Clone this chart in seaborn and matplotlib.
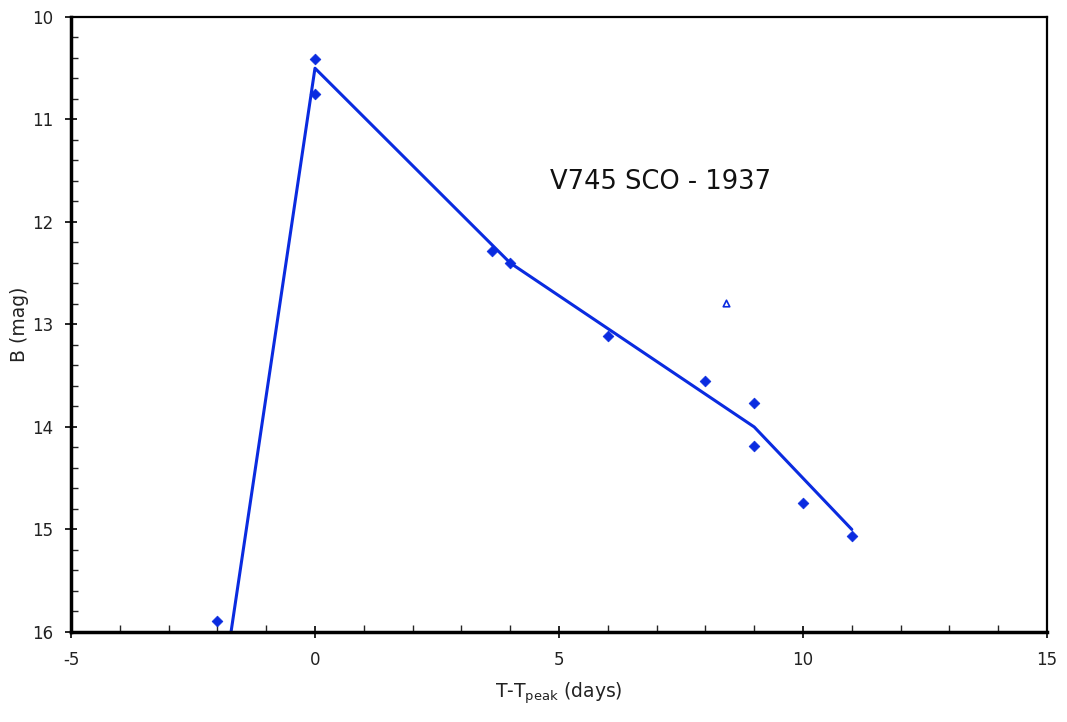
import numpy as np
import pandas as pd
import seaborn as sns
import matplotlib
matplotlib.use("Agg")
import matplotlib.pyplot as plt
from matplotlib.ticker import MultipleLocator

# Observations (diamonds)
obs_t = [-2.0, 0.0, 0.0, 3.63, 4.0, 6.0, 8.0, 9.0, 9.0, 10.0, 11.0]
obs_b = [15.89, 10.41, 10.75, 12.28, 12.40, 13.11, 13.55, 13.77, 14.19, 14.74, 15.06]
# Open-triangle observation
lim_t = [8.42]
lim_b = [12.79]
# Fitted piecewise template
fit_t = [-1.72, 0.0, 4.0, 9.0, 11.0]
fit_b = [16.0, 10.5, 12.4, 14.0, 15.0]

x_ticks = [-5, 0, 5, 10, 15]
y_ticks = [10, 11, 12, 13, 14, 15, 16]

blue = "#0a2be0"

sns.set_theme(style="white")
plt.rcParams['font.family'] = ['DejaVu Sans']
plt.rcParams['axes.unicode_minus'] = False

fig = plt.figure(figsize=(10.67, 7.22), dpi=100)
ax = fig.add_axes([0.0665, 0.1247, 0.9148, 0.8518])

obs = pd.DataFrame({"t": obs_t, "b": obs_b})
fit = pd.DataFrame({"t": fit_t, "b": fit_b})
lim = pd.DataFrame({"t": lim_t, "b": lim_b})

sns.lineplot(data=fit, x="t", y="b", ax=ax, color=blue, linewidth=2.2, sort=False,
             estimator=None, zorder=2)
sns.scatterplot(data=obs, x="t", y="b", ax=ax, marker="D", s=30, color=blue,
                edgecolor=blue, linewidth=0.5, zorder=3)
sns.scatterplot(data=lim, x="t", y="b", ax=ax, marker="^", s=22, facecolor="white",
                edgecolor=blue, linewidth=1.2, zorder=3)

ax.set_xlim(-5, 15)
ax.set_ylim(16, 10)
ax.set_xticks(x_ticks)
ax.set_yticks(y_ticks)
ax.xaxis.set_minor_locator(MultipleLocator(1))
ax.yaxis.set_minor_locator(MultipleLocator(0.2))
ax.tick_params(axis="both", which="major", direction="inout", length=8, width=1.2,
               labelsize=12, colors="black", bottom=True, left=True)
ax.tick_params(axis="x", which="major", pad=10)
ax.tick_params(axis="y", which="major", pad=9)
ax.tick_params(axis="both", which="minor", direction="in", length=5, width=1.0,
               bottom=True, left=True)
ax.tick_params(axis="x", labelcolor="#222222")
ax.tick_params(axis="y", labelcolor="#222222")

for side in ["left", "bottom"]:
    ax.spines[side].set_linewidth(2.5)
    ax.spines[side].set_color("black")
for side in ["top", "right"]:
    ax.spines[side].set_linewidth(1.6)
    ax.spines[side].set_color("black")

ax.set_xlabel(r"T-T$_{\mathregular{peak}}$ (days)", fontsize=13.5, color="#222222", labelpad=8)
ax.set_ylabel("B (mag)", fontsize=13.5, color="#222222", labelpad=2)

ax.text(4.82, 11.61, "V745 SCO - 1937", fontsize=18.5, color="#111111", va="center", ha="left")

fig.savefig("out.png", dpi=100)
